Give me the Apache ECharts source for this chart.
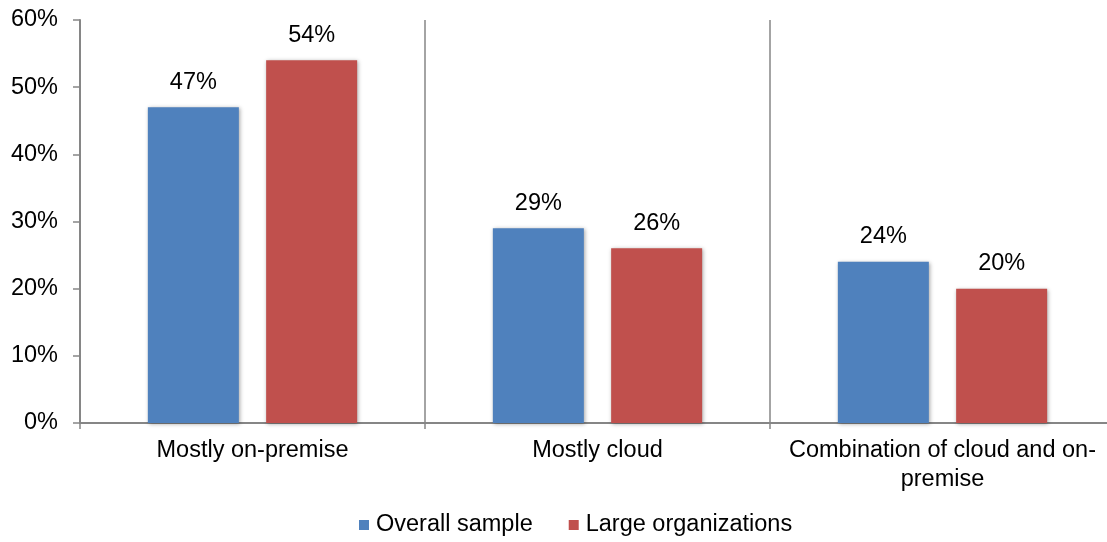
<!DOCTYPE html>
<html>
<head>
<meta charset="utf-8">
<script src="https://cdn.jsdelivr.net/npm/echarts@6/dist/echarts.min.js"></script>
<style>
  html, body { margin: 0; padding: 0; background: #fff; overflow: hidden; }
  #chart { width: 1107px; height: 542px; }
</style>
</head>
<body>
<div id="chart"></div>
<script>
// Where organizations keep their data (share of respondents, %)
const categories = ['Mostly on-premise', 'Mostly cloud', 'Combination of cloud and on-premise'];
const overallSample = [47, 29, 24];
const largeOrganizations = [54, 26, 20];
const seriesNames = ['Overall sample', 'Large organizations'];
const yTicks = { min: 0, max: 60, interval: 10 };

const FONT = '"Liberation Sans", Arial, sans-serif';
const AXIS_GREY = '#868686';

const barShadow = {
  shadowBlur: 4,
  shadowColor: 'rgba(0,0,0,0.35)',
  shadowOffsetX: 1,
  shadowOffsetY: 1
};

const valueLabel = {
  show: true,
  position: 'top',
  distance: 13,
  formatter: p => p.value + '%',
  fontFamily: FONT,
  fontSize: 23.5,
  color: '#000'
};

const chart = echarts.init(document.getElementById('chart'), null, { renderer: 'canvas' });
chart.setOption({
  animation: false,
  textStyle: { fontFamily: FONT },
  // the plot runs slightly past the right edge of the canvas
  grid: { left: 80, top: 20, width: 1035, bottom: 119, containLabel: false, outerBoundsMode: 'none' },
  legend: {
    bottom: 0,
    left: 354,
    itemWidth: 10,
    itemHeight: 10,
    itemGap: 36,
    icon: 'rect',
    textStyle: { fontFamily: FONT, fontSize: 23.5, color: '#000', padding: [0, 0, 0, 2] },
    data: seriesNames
  },
  xAxis: {
    type: 'category',
    data: categories,
    boundaryGap: true,
    axisLine: { show: true, lineStyle: { color: AXIS_GREY, width: 2 } },
    axisTick: { show: true, length: 6, lineStyle: { color: AXIS_GREY, width: 1.5 } },
    splitLine: { show: true, lineStyle: { color: AXIS_GREY, width: 1.5 } },
    axisLabel: {
      margin: 13,
      fontFamily: FONT,
      fontSize: 23.5,
      color: '#000',
      lineHeight: 29,
      interval: 0,
      formatter: v => v.replace('and on-', 'and on-\n')
    }
  },
  yAxis: {
    type: 'value',
    min: yTicks.min,
    max: yTicks.max,
    interval: yTicks.interval,
    axisLine: { show: true, lineStyle: { color: AXIS_GREY, width: 2 } },
    axisTick: { show: true, length: 7, lineStyle: { color: AXIS_GREY, width: 1.5 } },
    splitLine: { show: false },
    axisLabel: {
      margin: 22,
      fontFamily: FONT,
      fontSize: 23.5,
      color: '#000',
      formatter: '{value}%'
    }
  },
  series: [
    {
      name: seriesNames[0],
      type: 'bar',
      data: overallSample,
      barWidth: 91,
      barGap: '30%',
      itemStyle: Object.assign({ color: '#4F81BD' }, barShadow),
      label: valueLabel
    },
    {
      name: seriesNames[1],
      type: 'bar',
      data: largeOrganizations,
      barWidth: 91,
      barGap: '30%',
      itemStyle: Object.assign({ color: '#C0504D' }, barShadow),
      label: valueLabel
    }
  ]
});
</script>
</body>
</html>
